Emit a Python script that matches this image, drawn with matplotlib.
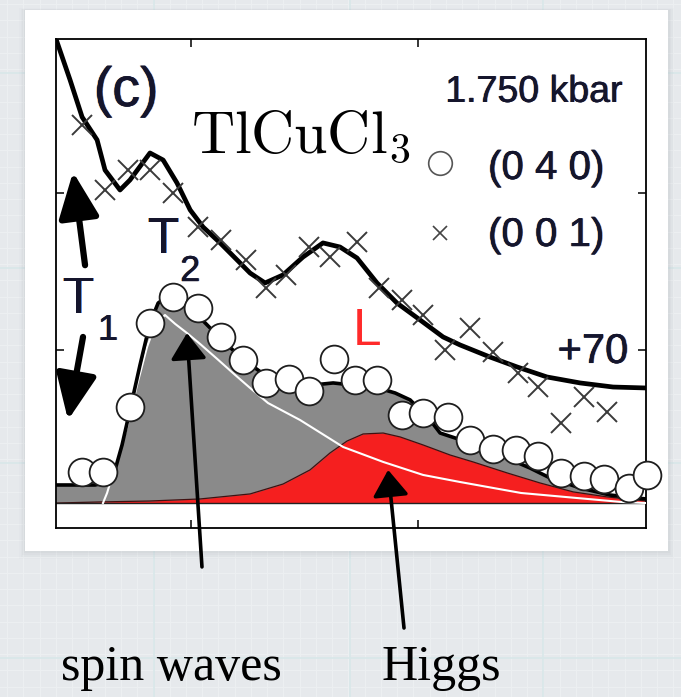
import numpy as np
import matplotlib
matplotlib.use('Agg')
import matplotlib.pyplot as plt
import matplotlib.patheffects as pe
from matplotlib.patches import Rectangle

plt.rcParams['font.family'] = ['Liberation Sans', 'DejaVu Sans']
plt.rcParams['mathtext.fontset'] = 'cm'

# (0 4 0) scan: energy (meV), counts
e040 = [0.52, 0.61, 0.73, 0.82, 0.92, 1.03, 1.13, 1.23, 1.33, 1.43, 1.52, 1.63,
        1.72, 1.82, 1.93, 2.02, 2.13, 2.23, 2.33, 2.43, 2.53, 2.63, 2.73, 2.82,
        2.93, 3.01]
n040 = [22.3, 22.3, 63.7, 117.2, 133.8, 126.8, 108.3, 93.6, 79.0, 81.5, 73.9, 94.3,
        80.9, 80.9, 58.6, 59.9, 57.3, 42.7, 36.9, 36.3, 32.5, 21.7, 19.7, 17.8,
        12.1, 20.4]

# (0 0 1) scan, already shifted by +70
e001 = [0.52, 0.62, 0.72, 0.82, 0.92, 1.03, 1.13, 1.24, 1.33, 1.42, 1.52, 1.61,
        1.73, 1.83, 1.93, 2.02, 2.12, 2.23, 2.33, 2.44, 2.53, 2.63, 2.73, 2.83]
n001 = [243.3, 201.9, 214.6, 214.6, 200.0, 178.3, 170.1, 157.3, 139.5, 147.8, 165.6, 159.2,
        168.8, 139.5, 131.8, 122.3, 100.0, 114.0, 98.7, 85.4, 76.4, 53.5, 70.1, 60.5]

# fit through the (0 0 1) scan
fit001_e = [0.405, 0.467, 0.520, 0.586, 0.621, 0.687, 0.731, 0.819, 0.877, 0.938,
            0.996, 1.053, 1.128, 1.203, 1.260, 1.326, 1.405, 1.493, 1.581, 1.656,
            1.731, 1.819, 1.907, 2.009, 2.110, 2.185, 2.317, 2.436, 2.568, 2.714,
            2.859, 3.004]
fit001_n = [298.1, 272.0, 248.4, 233.8, 214.6, 201.9, 208.3, 225.5, 221.0, 206.4,
            189.2, 178.3, 168.2, 157.3, 149.0, 142.7, 147.8, 159.2, 168.2, 165.6,
            158.6, 142.7, 129.9, 119.1, 108.3, 103.2, 95.5, 89.2, 82.8, 79.0,
            76.4, 75.8]

# total fit through the (0 4 0) scan
fit_e = [0.405, 0.577, 0.634, 0.665, 0.696, 0.731, 0.775, 0.819, 0.855, 0.885,
         0.952, 1.040, 1.128, 1.229, 1.326, 1.436, 1.524, 1.626, 1.722, 1.824,
         1.899, 1.965, 2.053, 2.097, 2.229, 2.361, 2.493, 2.581, 2.714, 2.846,
         3.004]
fit_n = [14.0, 14.0, 15.9, 23.6, 39.5, 61.8, 90.4, 117.2, 129.9, 133.1,
         130.0, 120.5, 107.5, 94.0, 84.0, 79.0, 77.5, 79.0, 77.5, 75.8,
         72.6, 68.2, 55.4, 47.1, 40.8, 33.1, 24.8, 18.5, 12.1, 7.6,
         5.1]

# transverse (spin-wave) part
sw_e = [0.612, 0.630, 0.674, 0.718, 0.762, 0.806, 0.841, 0.885, 0.930, 0.982,
        1.040, 1.115, 1.194, 1.260, 1.339, 1.480, 1.670, 1.846, 2.022, 2.185,
        2.454, 2.700, 2.894, 3.004]
sw_n = [2.5, 8.9, 29.9, 51.0, 77.7, 101.9, 115.9, 122.3, 116.6, 110.8,
        103.8, 94.3, 84.1, 75.8, 66.2, 55.4, 38.2, 28.7, 20.4, 15.9,
        8.9, 5.7, 3.2, 2.5]

# longitudinal (Higgs) part
higgs_e = [0.405, 0.599, 0.819, 1.040, 1.260, 1.405, 1.524, 1.612, 1.687, 1.758,
           1.846, 1.921, 2.022, 2.141, 2.242, 2.392, 2.537, 2.683, 2.833, 3.004]
higgs_n = [2.5, 3.2, 3.8, 5.1, 8.3, 14.6, 23.6, 34.4, 42.0, 46.5,
           47.1, 44.6, 39.5, 33.1, 28.7, 21.7, 15.3, 9.6, 6.4, 3.8]

floor = 2.5

W, H = 681, 697
fig = plt.figure(figsize=(W / 100, H / 100), dpi=100)

# grid-paper backdrop with a white card
bg = fig.add_axes([0, 0, 1, 1], zorder=-10)
bg.set_xlim(0, W)
bg.set_ylim(H, 0)
bg.axis('off')
bg.add_patch(Rectangle((0, 0), W, H, color='#e6e9ec', zorder=0))
for gx in np.arange(7, W, 16.25):
    bg.axvline(gx, color='#edf0f2', lw=0.7, zorder=1)
for gy in np.arange(4, H, 16.25):
    bg.axhline(gy, color='#edf0f2', lw=0.7, zorder=1)
for gx in (154, 350, 543):
    bg.axvline(gx, color='#d8e7e9', lw=1.2, zorder=1)
for gy in (73, 268, 463, 658):
    bg.axhline(gy, color='#d8e7e9', lw=1.2, zorder=1)
for k, a in enumerate((0.05, 0.04, 0.03, 0.02)):
    d = 1.5 * (k + 1)
    bg.add_patch(Rectangle((25 - d, 10 - d * 0.3), 643 + 2 * d, 541 + d * 1.6,
                           color='#7a8088', alpha=a, lw=0, zorder=2))
bg.add_patch(Rectangle((25, 10), 643, 541, color='white', lw=0, zorder=3))

ax = fig.add_axes([56 / W, 1 - 528 / H, 590 / W, 489 / H])
ax.set_facecolor('none')
ax.set_xlim(0.405, 3.004)
ax.set_ylim(-13.4, 298.1)
ax.set_xticks([1, 2])
ax.set_yticks([100, 200])
ax.tick_params(direction='in', length=6, width=1.1, top=True, right=True,
               labelbottom=False, labelleft=False)
for s in ax.spines.values():
    s.set_linewidth(1.3)

ax.fill_between(fit_e, floor, fit_n, color='#8a8a8a', lw=0, zorder=1)
ax.fill_between(higgs_e, floor, higgs_n, color='#f51f1f', lw=0, zorder=2)
ax.plot(higgs_e, higgs_n, color='#401010', lw=0.9, zorder=2)
ax.axhline(floor, color='#222222', lw=1.0, zorder=2)
ax.plot(sw_e, sw_n, color='white', lw=1.5, zorder=3)
ax.plot(fit_e, fit_n, color='black', lw=2.6, zorder=3)
ax.plot(fit001_e, fit001_n, color='black', lw=3.4, zorder=4)
ax.plot(e001, n001, 'x', ms=15, mew=1.4, color='#3a3a3a', zorder=5)
ax.plot(e040, n040, 'o', ms=20, mfc='white', mec='#1e1e1e', mew=1.3,
        zorder=6, clip_on=False)

# dark labels with the orange/blue colour edges of the printed figure
fringe = [pe.withSimplePatchShadow(offset=(-0.6, 0), shadow_rgbFace='#e08a28', alpha=0.75),
          pe.withSimplePatchShadow(offset=(0.6, 0), shadow_rgbFace='#2b6fd6', alpha=0.75),
          pe.Normal()]


def label(x, y, s, size, **kw):
    t = ax.text(x, y, s, fontsize=size, color='#15152c', zorder=8, **kw)
    t.set_path_effects(fringe)


label(0.714, 264.3, '(c)', 40, ha='center', va='center')
label(2.899, 258.0, '1.750 kbar', 27, ha='right', va='baseline')
label(2.308, 215.9, '(0 4 0)', 29, ha='left', va='center')
label(2.308, 173.2, '(0 0 1)', 29, ha='left', va='center')
label(0.811, 161.8, 'T', 37, ha='left', va='baseline')
label(0.952, 143.9, '2', 26, ha='left', va='baseline')
label(0.436, 123.6, 'T', 37, ha='left', va='baseline')
label(0.590, 106.4, '1', 26, ha='left', va='baseline')
label(2.925, 91.7, '+70', 30, ha='right', va='baseline')

ax.plot([2.097], [219.1], 'o', ms=17, mfc='white', mec='#555555', mew=1.2, zorder=6)
ax.plot([2.097], [174.5], 'x', ms=10, mew=1.2, color='#444444', zorder=6)

ax.text(1.0, 225.5, r'$\mathrm{TlCuCl}_3$', fontsize=43, ha='left',
        va='baseline', color='black', zorder=8)
ax.text(1.714, 103.2, 'L', fontsize=37, ha='left', va='baseline',
        color='#ff2a2a', zorder=8)

# T1 double arrow
big = dict(arrowstyle='-|>,head_length=1.4,head_width=0.62', lw=4.5,
           color='black', mutation_scale=20, shrinkA=0, shrinkB=0)
ax.annotate('', xy=(0.480, 213.4), xytext=(0.533, 154.0), arrowprops=big,
            annotation_clip=False, zorder=8)
ax.annotate('', xy=(0.458, 55.4), xytext=(0.524, 108.3), arrowprops=big,
            annotation_clip=False, zorder=8)

# pointers from the captions below the frame
thin = dict(arrowstyle='-|>,head_length=0.8,head_width=0.55', lw=2.6,
            color='black', mutation_scale=20, shrinkA=0, shrinkB=0)
ax.annotate('', xy=(0.982, 110.8), xytext=(1.048, -38.2), arrowprops=thin,
            annotation_clip=False, zorder=9)
ax.annotate('', xy=(1.868, 23.6), xytext=(1.938, -77.1), arrowprops=thin,
            annotation_clip=False, zorder=9)

ax.text(0.427, -110.2, 'spin waves', fontsize=36, family='Liberation Serif',
        ha='left', va='baseline', clip_on=False)
ax.text(1.841, -110.2, 'Higgs', fontsize=36, family='Liberation Serif',
        ha='left', va='baseline', clip_on=False)

fig.savefig('out.png', dpi=100)
